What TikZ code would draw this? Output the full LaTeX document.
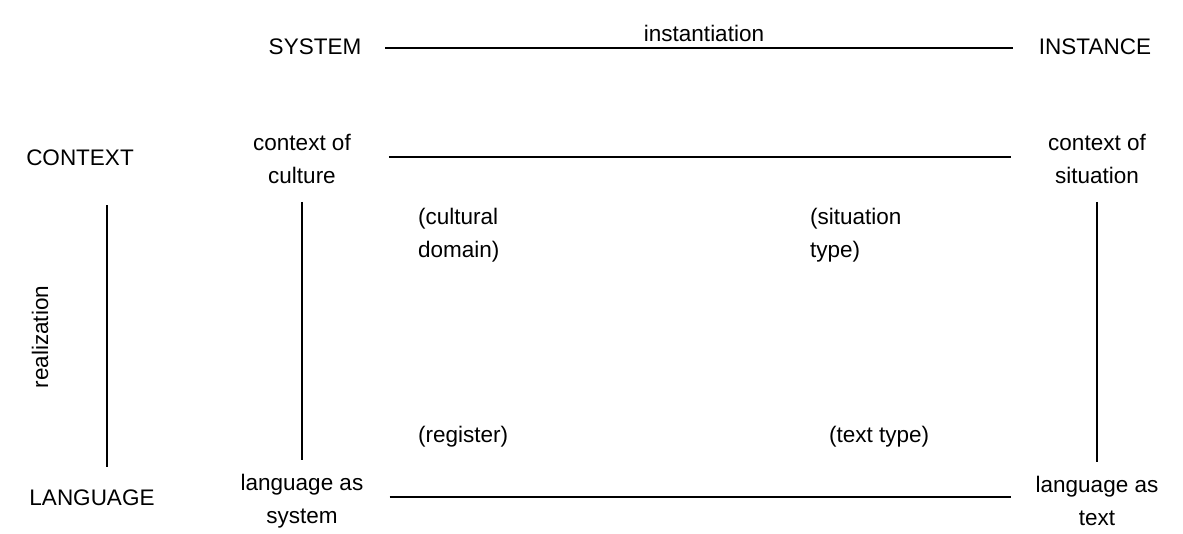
\documentclass[tikz,border=0pt]{standalone}
\usepackage{fontspec}
\setmainfont{Liberation Sans}
\begin{document}
\begin{tikzpicture}[x=1pt,y=-1pt,
  lbl/.style={inner sep=0pt,font=\fontsize{22.5}{33}\selectfont,align=center},
  link/.style={line width=2.3pt,line cap=butt}]
\useasboundingbox (0,0) rectangle (1183,533);
% dimension headings
\node[lbl] (sys) at (315,47) {SYSTEM};
\node[lbl] (ins) at (1095,47) {INSTANCE};
\node[lbl] (inst) at (704,33) {instantiation};
\node[lbl] (ctx) at (80,158) {CONTEXT};
\node[lbl] (lang) at (92,498) {LANGUAGE};
\node[lbl,rotate=90] (real) at (40,337) {realization};
% corner labels
\node[lbl] (cc) at (302,159) {context of\\culture};
\node[lbl] (cs) at (1097,159) {context of\\situation};
\node[lbl] (ls) at (302,501) {language as\\system};
\node[lbl] (lt) at (1097,501) {language as\\text};
% intermediate labels
\node[lbl,anchor=west,align=left] (cd) at (418,235) {(cultural\\domain)};
\node[lbl,anchor=west,align=left] (st) at (810,235) {(situation\\type)};
\node[lbl,anchor=west] (reg) at (418,437) {(register)};
\node[lbl,anchor=west] (tt) at (829,437) {(text type)};
% realization axis
\coordinate (rtop) at (107,205);
\coordinate (rbot) at (107,467);
\draw[link] (rtop) -- (rbot);
% connectors
\path (sys.east) ++(24,1) coordinate (s1) (ins.west) ++(-26,1) coordinate (s2);
\draw[link] (s1) -- (s2);
\draw[link,shorten <=38pt,shorten >=37pt] (cc.east|-0,157) -- (cs.west|-0,157);
\draw[link,shorten <=26pt,shorten >=25pt] (ls.east|-0,497) -- (lt.west|-0,497);
\draw[link] ([yshift=-18pt]cc.south) -- ([yshift=14pt]ls.north);
\draw[link] ([yshift=-18pt]cs.south) -- ([yshift=14pt]lt.north);
\end{tikzpicture}
\end{document}
